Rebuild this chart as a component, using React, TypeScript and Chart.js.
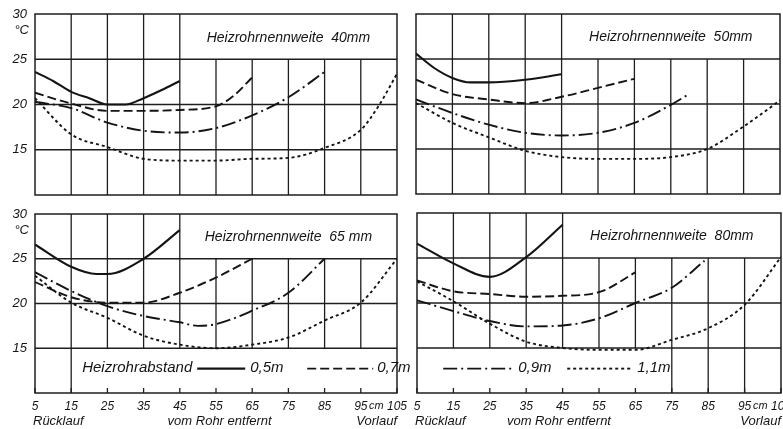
import React, { useEffect, useRef } from "react";
import { Chart, registerables } from "chart.js";
Chart.register(...registerables);

// ---------- data ----------
const distances = [5, 15, 25, 35, 45, 55, 65, 75, 85, 95, 105];
const xTickLabels = ["5", "15", "25", "35", "45", "55", "65", "75", "85", "95", "105"];
const yTicks = [15, 20, 25, 30];
const yTickLabels = ["15", "20", "25", "30"];
const seriesLabels = ["0,5m", "0,7m", "0,9m", "1,1m"];
const legendTitle = "Heizrohrabstand";
const unitY = "°C";
const unitX = "cm";
const axisLeftText = "Rücklauf";
const axisMidText = "vom Rohr entfernt";
const axisRightText = "Vorlauf";
const panelTitles = [
  "Heizrohrnennweite  40mm",
  "Heizrohrnennweite  50mm",
  "Heizrohrnennweite  65 mm",
  "Heizrohrnennweite  80mm",
];

// 40 mm
const x40a = [5, 10, 15, 20, 25, 30, 35, 40, 45];
const y40a = [23.6, 22.6, 21.4, 20.7, 20.0, 20.0, 20.7, 21.6, 22.6];
const x40b = [5, 15, 25, 35, 45, 55, 60, 65];
const y40b = [21.3, 20.1, 19.3, 19.3, 19.4, 19.8, 21.0, 23.0];
const x40c = [5, 15, 25, 35, 45, 55, 65, 75, 85];
const y40c = [20.3, 19.6, 18.0, 17.1, 16.9, 17.4, 18.8, 20.8, 23.6];
const x40d = [5, 15, 25, 35, 45, 55, 65, 75, 85, 95, 100, 105];
const y40d = [20.7, 16.7, 15.3, 14.0, 13.8, 13.8, 14.0, 14.1, 15.2, 17.2, 19.9, 23.4];

// 50 mm
const x50a = [5, 10, 15, 20, 25, 35, 45];
const y50a = [25.6, 24.0, 22.9, 22.4, 22.4, 22.7, 23.3];
const x50b = [5, 15, 25, 35, 45, 55, 65];
const y50b = [22.7, 21.1, 20.5, 20.1, 20.8, 21.8, 22.8];
const x50c = [5, 15, 25, 35, 45, 55, 65, 75, 80];
const y50c = [20.5, 19.0, 17.7, 16.8, 16.5, 16.8, 17.9, 19.9, 21.1];
const x50d = [5, 15, 25, 35, 45, 55, 65, 75, 85, 95, 105];
const y50d = [20.1, 17.9, 16.3, 14.8, 14.1, 13.9, 13.9, 14.1, 15.0, 17.5, 20.4];

// 65 mm
const x65a = [5, 15, 22, 25, 35, 45];
const y65a = [26.6, 24.1, 23.3, 23.3, 25.0, 28.2];
const x65b = [5, 15, 25, 35, 45, 55, 65];
const y65b = [22.4, 20.7, 20.1, 20.1, 21.2, 22.9, 25.0];
const x65c = [5, 15, 25, 35, 45, 50, 55, 65, 75, 85];
const y65c = [23.5, 21.4, 19.7, 18.6, 17.9, 17.5, 17.7, 19.2, 21.2, 25.0];
const x65d = [5, 15, 25, 35, 45, 55, 65, 75, 85, 95, 105];
const y65d = [23.1, 20.1, 18.4, 16.4, 15.4, 15.0, 15.4, 16.2, 18.1, 20.1, 25.0];

// 80 mm
const x80a = [5, 15, 25, 35, 45];
const y80a = [26.6, 24.4, 22.9, 25.1, 28.7];
const x80b = [5, 15, 25, 35, 45, 55, 65];
const y80b = [22.5, 21.3, 21.0, 20.7, 20.8, 21.2, 23.4];
const x80c = [5, 15, 25, 35, 45, 55, 65, 75, 84];
const y80c = [20.3, 19.1, 18.0, 17.4, 17.5, 18.3, 20.0, 21.7, 24.7];
const x80d = [5, 15, 25, 35, 45, 55, 65, 75, 85, 95, 105];
const y80d = [22.4, 20.2, 17.7, 15.7, 15.0, 14.8, 14.8, 15.9, 17.2, 19.8, 25.1];

// ---------- styles ----------
const FONT = "'Liberation Sans', 'DejaVu Sans', sans-serif";
const INK = "#141414";
const GRID = "#1e1e1e";
const dashes: number[][] = [[], [9, 4], [14, 4, 2, 4], [3, 3]];
const widths = [2.1, 1.9, 1.9, 1.9];

type Spec = {
  left: number; top: number; w: number; h: number; z: number;
  padding: { top: number; right: number; bottom: number; left: number };
  showX: boolean; showY: boolean;
  legendSide: "none" | "left" | "right";
  title: string; midAt: number;
  xs: number[][]; ys: number[][];
};

const specs: Spec[] = [
  {
    left: 0, top: 0, w: 400, h: 200, z: 1,
    padding: { top: 14, right: 3, bottom: 5, left: 0 },
    showX: false, showY: true, legendSide: "none", title: panelTitles[0], midAt: 55,
    xs: [x40a, x40b, x40c, x40d], ys: [y40a, y40b, y40c, y40d],
  },
  {
    left: 400, top: 0, w: 383, h: 200, z: 1,
    padding: { top: 14, right: 3, bottom: 6, left: 16 },
    showX: false, showY: false, legendSide: "none", title: panelTitles[1], midAt: 55,
    xs: [x50a, x50b, x50c, x50d], ys: [y50a, y50b, y50c, y50d],
  },
  {
    left: 0, top: 200, w: 783, h: 229, z: 3,
    padding: { top: 14, right: 386, bottom: 0, left: 0 },
    showX: true, showY: true, legendSide: "left", title: panelTitles[2], midAt: 56,
    xs: [x65a, x65b, x65c, x65d], ys: [y65a, y65b, y65c, y65d],
  },
  {
    left: 400, top: 200, w: 383, h: 229, z: 2,
    padding: { top: 13, right: 2, bottom: 0, left: 17 },
    showX: true, showY: false, legendSide: "right", title: panelTitles[3], midAt: 44,
    xs: [x80a, x80b, x80c, x80d], ys: [y80a, y80b, y80c, y80d],
  },
];

// right panel geometry (used only to place the shared legend frame)
const RIGHT_PANEL_LEFT_PAGE = 417;
const RIGHT_PANEL_RIGHT_PAGE = 781;

function decoPlugin(spec: Spec) {
  return {
    id: "panelDeco",
    beforeDatasetsDraw(chart: any) {
      const { ctx, chartArea } = chart;
      const { left, right, top, bottom } = chartArea;
      const sx = chart.scales.x;
      const sy = chart.scales.y;
      const line = (x1: number, y1: number, x2: number, y2: number) => {
        ctx.beginPath();
        ctx.moveTo(x1, y1);
        ctx.lineTo(x2, y2);
        ctx.stroke();
      };
      ctx.save();
      ctx.strokeStyle = GRID;
      ctx.lineWidth = 1.3;
      const y25 = sy.getPixelForValue(25);
      const y15 = sy.getPixelForValue(15);
      [15, 20, 25].forEach((v) => {
        const py = sy.getPixelForValue(v);
        line(left, py, right, py);
      });
      distances.slice(1, -1).forEach((v) => {
        const px = sx.getPixelForValue(v);
        const yTop = v > 45 ? y25 : top;
        let yBot = bottom;
        if (spec.legendSide === "left" && v > 15) yBot = y15;
        if (spec.legendSide === "right" && v < 75) yBot = y15;
        line(px, yTop, px, yBot);
      });
      ctx.lineWidth = 1.5;
      ctx.strokeRect(left, top, right - left, bottom - top);
      if (spec.showX) {
        ctx.lineWidth = 1.3;
        distances.forEach((v) => {
          const px = sx.getPixelForValue(v);
          line(px, bottom, px, bottom - 5);
        });
      }
      // panel title
      ctx.fillStyle = INK;
      ctx.font = `italic 14px ${FONT}`;
      ctx.textAlign = "center";
      ctx.textBaseline = "middle";
      ctx.fillText(spec.title, sx.getPixelForValue(75), (top + y25) / 2 + 1);
      // unit on y axis
      if (spec.showY) {
        ctx.font = `italic 13px ${FONT}`;
        ctx.textAlign = "right";
        ctx.fillText(unitY, left - 6, sy.getPixelForValue(30) + 16);
      }
      // x axis texts
      if (spec.showX) {
        ctx.textBaseline = "middle";
        ctx.textAlign = "center";
        ctx.font = `italic 11px ${FONT}`;
        ctx.fillText(unitX, sx.getPixelForValue(99.3), bottom + 13);
        ctx.font = `italic 13px ${FONT}`;
        const yy = bottom + 28;
        ctx.textAlign = "left";
        ctx.fillText(axisLeftText, left - 2, yy);
        ctx.textAlign = "center";
        ctx.fillText(axisMidText, sx.getPixelForValue(spec.midAt), yy);
        ctx.textAlign = "right";
        ctx.fillText(axisRightText, right, yy);
      }
      ctx.restore();
    },
    afterDatasetsDraw(chart: any) {
      if (spec.legendSide !== "left") return;
      const { ctx, chartArea } = chart;
      const { bottom } = chartArea;
      const sx = chart.scales.x;
      const sy = chart.scales.y;
      const x0 = sx.getPixelForValue(15);
      const rightEdge =
        RIGHT_PANEL_LEFT_PAGE - spec.left +
        ((75 - 5) / (105 - 5)) * (RIGHT_PANEL_RIGHT_PAGE - RIGHT_PANEL_LEFT_PAGE);
      const cy = (sy.getPixelForValue(15) + bottom) / 2 - 3;
      ctx.save();
      ctx.fillStyle = INK;
      ctx.strokeStyle = INK;
      ctx.textBaseline = "middle";
      ctx.textAlign = "left";
      ctx.font = `italic 15px ${FONT}`;
      ctx.fillText(legendTitle, x0 + 11, cy);
      const samples = [
        [126, 174, 179],
        [236, 302, 306],
        [372, 444, 447],
        [496, 562, 566],
      ];
      samples.forEach((s, i) => {
        ctx.setLineDash(dashes[i]);
        ctx.lineWidth = widths[i];
        ctx.beginPath();
        ctx.moveTo(x0 + s[0], cy + 1);
        ctx.lineTo(Math.min(x0 + s[1], rightEdge - 4), cy + 1);
        ctx.stroke();
        ctx.setLineDash([]);
        ctx.fillText(seriesLabels[i], x0 + s[2], cy);
      });
      ctx.restore();
    },
  };
}

function Panel({ spec }: { spec: Spec }) {
  const ref = useRef<HTMLCanvasElement>(null);
  useEffect(() => {
    const datasets = spec.xs.map((xs, i) => ({
      label: seriesLabels[i],
      data: xs.map((x, j) => ({ x, y: spec.ys[i][j] })),
      borderColor: INK,
      borderWidth: widths[i],
      borderDash: dashes[i],
      pointRadius: 0,
      fill: false,
      cubicInterpolationMode: "monotone" as const,
    }));
    const tickFont = { family: FONT, size: 12, style: "italic" as const };
    const chart = new Chart(ref.current!, {
      type: "line",
      data: { datasets },
      options: {
        responsive: false,
        animation: false,
        events: [],
        layout: { padding: spec.padding },
        plugins: { legend: { display: false }, tooltip: { enabled: false } },
        scales: {
          x: {
            type: "linear",
            min: 5,
            max: 105,
            display: spec.showX,
            afterBuildTicks: (s: any) => {
              s.ticks = distances.map((v) => ({ value: v }));
            },
            afterFit: (s: any) => {
              s.height = spec.showX ? 36 : 0;
              s.paddingLeft = 0;
              s.paddingRight = 0;
            },
            grid: { display: false, drawTicks: false },
            border: { display: false },
            ticks: {
              padding: 6,
              font: tickFont,
              color: INK,
              maxRotation: 0,
              autoSkip: false,
              callback: (_v: any, i: number) => xTickLabels[i],
            },
          },
          y: {
            type: "linear",
            min: 10,
            max: 30,
            display: spec.showY,
            afterBuildTicks: (s: any) => {
              s.ticks = yTicks.map((v) => ({ value: v }));
            },
            afterFit: (s: any) => {
              s.width = spec.showY ? 35 : 0;
              s.paddingTop = 0;
              s.paddingBottom = 0;
            },
            grid: { display: false, drawTicks: false },
            border: { display: false },
            ticks: {
              padding: 8,
              font: { family: FONT, size: 13, style: "italic" as const },
              color: INK,
              autoSkip: false,
              callback: (_v: any, i: number) => yTickLabels[i],
            },
          },
        },
      },
      plugins: [decoPlugin(spec)],
    });
    return () => chart.destroy();
  }, []);
  return (
    <canvas
      ref={ref}
      width={spec.w}
      height={spec.h}
      style={{
        position: "absolute",
        left: spec.left,
        top: spec.top,
        width: spec.w,
        height: spec.h,
        zIndex: spec.z,
      }}
    />
  );
}

export default function App() {
  return (
    <div
      style={{
        position: "absolute",
        left: 0,
        top: 0,
        width: 783,
        height: 429,
        background: "#fff",
        overflow: "hidden",
      }}
    >
      {specs.map((s, i) => (
        <Panel key={i} spec={s} />
      ))}
    </div>
  );
}
